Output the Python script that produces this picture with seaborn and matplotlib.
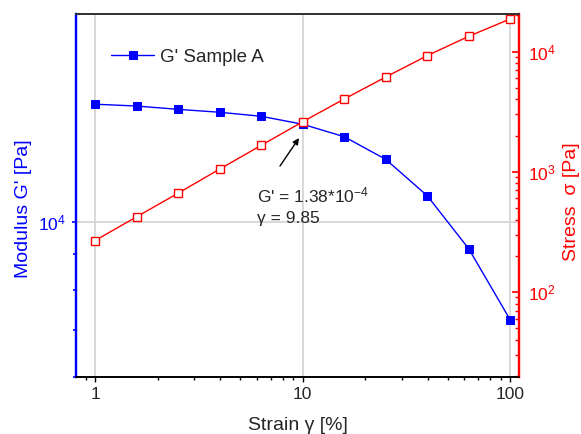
import numpy as np
import pandas as pd
import matplotlib
matplotlib.use("Agg")
import matplotlib.pyplot as plt
import matplotlib.ticker as mticker
import seaborn as sns

# strain sweep, 5 points per decade
strain = [1.0, 1.585, 2.512, 3.981, 6.31, 10.0, 15.85, 25.12, 39.81, 63.1, 100.0]
# storage modulus G' [Pa]
modulus = [14790, 14700, 14540, 14400, 14210, 13840, 13280, 12320, 10920, 9160, 7235]
# stress sigma [Pa]
stress = [268, 422, 664, 1053, 1660, 2610, 4035, 6150, 9260, 13430, 18730]

cross_strain = 9.85
cross_modulus = 1.38

df = pd.DataFrame({"strain": strain, "modulus": modulus, "stress": stress})

sns.set_style("white")
plt.rcParams["font.family"] = ["Liberation Sans", "DejaVu Sans"]
plt.rcParams["mathtext.fontset"] = "custom"
plt.rcParams["mathtext.rm"] = "Liberation Sans"
plt.rcParams["mathtext.it"] = "Liberation Sans:italic"

fig = plt.figure(figsize=(5.81, 4.34), dpi=100)
ax = fig.add_axes([0.1303, 0.1313, 0.7635, 0.8357])
ax2 = ax.twinx()

sns.lineplot(data=df, x="strain", y="modulus", ax=ax, color="blue", lw=1,
             marker="s", markersize=6.3, markerfacecolor="blue",
             markeredgecolor="blue", label="G' Sample A")
sns.lineplot(data=df, x="strain", y="stress", ax=ax2, color="red", lw=1,
             marker="s", markersize=5.5, markerfacecolor="white",
             markeredgecolor="red", markeredgewidth=1, legend=False)

ax.set_xscale("log")
ax.set_yscale("log")
ax2.set_yscale("log")
ax.set_xlim(0.807, 110.5)
ax.set_ylim(5990, 19920)
ax2.set_ylim(19.6, 20450)

# ticks
ax.xaxis.set_major_locator(mticker.LogLocator(base=10, numticks=10))
ax.xaxis.set_major_formatter(mticker.FuncFormatter(lambda v, p: f"{v:g}"))
ax.xaxis.set_minor_locator(mticker.LogLocator(base=10, subs=np.arange(2, 10), numticks=20))
ax.xaxis.set_minor_formatter(mticker.NullFormatter())
for a in (ax, ax2):
    a.yaxis.set_major_locator(mticker.LogLocator(base=10, numticks=10))
    a.yaxis.set_major_formatter(mticker.LogFormatterMathtext())
    a.yaxis.set_minor_locator(mticker.LogLocator(base=10, subs=np.arange(2, 10), numticks=20))
    a.yaxis.set_minor_formatter(mticker.NullFormatter())

ax.tick_params(axis="x", which="major", direction="out", length=3.5, width=1,
               color="black", labelsize=12.5, pad=4, bottom=True)
ax.tick_params(axis="x", which="minor", direction="out", length=2.2, width=1,
               color="black", bottom=True)
ax.tick_params(axis="y", which="major", direction="out", length=3, width=1.2,
               color="blue", labelcolor="blue", labelsize=12.5, pad=4, left=True)
ax.tick_params(axis="y", which="minor", direction="out", length=2.5, width=1.2,
               color="blue", left=True)
ax2.tick_params(axis="y", which="major", direction="in", length=5, width=1.2,
                color="red", labelcolor="red", labelsize=12.5, pad=6, right=True)
ax2.tick_params(axis="y", which="minor", direction="in", length=2.8, width=1,
                color="red", right=True)

# spines
for a in (ax, ax2):
    a.spines["left"].set_color("blue")
    a.spines["left"].set_linewidth(1.6)
    a.spines["right"].set_color("red")
    a.spines["right"].set_linewidth(1.6)
    a.spines["top"].set_color("#333333")
    a.spines["top"].set_linewidth(1.4)
    a.spines["bottom"].set_color("black")
    a.spines["bottom"].set_linewidth(1.2)

ax.grid(True, which="major", color="#d6d6d6", lw=1.3)
ax.set_axisbelow(True)
ax2.grid(False)

ax.set_xlabel("Strain \u03b3 [%]", fontsize=14)
ax.set_ylabel("Modulus G' [Pa]", fontsize=14, color="blue")
ax2.set_ylabel("Stress  \u03c3 [Pa]", fontsize=14, color="red")
ax.xaxis.set_label_coords(0.5, -0.11)
ax.yaxis.set_label_coords(-0.118, 0.463)
ax2.yaxis.set_label_coords(1.117, 0.4825)
ax2.yaxis.label.set_va("center")
ax.yaxis.label.set_va("center")

ax.legend(loc="center left", bbox_to_anchor=(0.08, 0.882), frameon=False,
          fontsize=13.5, handlelength=2.3, handletextpad=0.3,
          borderaxespad=0, borderpad=0)

# annotation of crossover
ax.annotate("", xy=(9.6, 13220), xytext=(0.4605, 0.5817),
            textcoords="axes fraction",
            arrowprops=dict(arrowstyle="-|>", color="black", lw=1,
                            mutation_scale=9, shrinkA=0, shrinkB=0))
ax.text(0.4087, 0.4825, f"G' = {cross_modulus}*10$^{{-4}}$",
        transform=ax.transAxes, fontsize=12.5, va="baseline", ha="left")
ax.text(0.4087, 0.4245, f"\u03b3 = {cross_strain}",
        transform=ax.transAxes, fontsize=12.5, va="baseline", ha="left")

fig.savefig("out.png", dpi=100)
